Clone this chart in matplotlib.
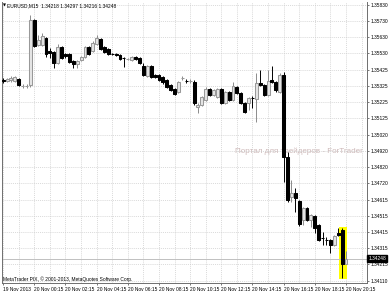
import matplotlib
matplotlib.use('Agg')
import matplotlib.pyplot as plt
from matplotlib.patches import Rectangle
from matplotlib.transforms import blended_transform_factory

plt.rcParams['font.family'] = ['Liberation Sans', 'DejaVu Sans']

# EURUSD M15 bars, 19 Nov 2013 22:15 .. 20 Nov 2013 20:15
opens = [1.35363, 1.35357, 1.35363, 1.35357, 1.35369, 1.35325, 1.35326, 1.35330, 1.35737, 1.35581,
         1.35581, 1.35624, 1.35543, 1.35537, 1.35469, 1.35568, 1.35525, 1.35525, 1.35482, 1.35463,
         1.35488, 1.35506, 1.35568, 1.35543, 1.35587, 1.35618, 1.35568, 1.35556, 1.35525, 1.35525,
         1.35519, 1.35500, 1.35494, 1.35488, 1.35506, 1.35500, 1.35450, 1.35388, 1.35450, 1.35394,
         1.35394, 1.35381, 1.35363, 1.35332, 1.35307, 1.35288, 1.35375, 1.35357, 1.35356, 1.35350,
         1.35195, 1.35208, 1.35239, 1.35307, 1.35270, 1.35258, 1.35307, 1.35220, 1.35288, 1.35239,
         1.35319, 1.35282, 1.35220, 1.35220, 1.35251, 1.35245, 1.35344, 1.35332, 1.35270, 1.35363,
         1.35350, 1.35288, 1.35394, 1.34883, 1.34634, 1.34659, 1.34609, 1.34490, 1.34566, 1.34490,
         1.34515, 1.34459, 1.34378, 1.34366, 1.34366, 1.34335, 1.34409, 1.34428, 1.34218]
highs = [1.35375, 1.35375, 1.35388, 1.35388, 1.35375, 1.35338, 1.35338, 1.35768, 1.35743, 1.35644,
         1.35656, 1.35630, 1.35562, 1.35543, 1.35587, 1.35575, 1.35531, 1.35531, 1.35488, 1.35488,
         1.35512, 1.35575, 1.35575, 1.35606, 1.35644, 1.35624, 1.35575, 1.35562, 1.35531, 1.35531,
         1.35525, 1.35506, 1.35500, 1.35512, 1.35512, 1.35506, 1.35469, 1.35456, 1.35456, 1.35400,
         1.35400, 1.35388, 1.35369, 1.35338, 1.35313, 1.35357, 1.35388, 1.35369, 1.35369, 1.35363,
         1.35220, 1.35264, 1.35319, 1.35313, 1.35307, 1.35313, 1.35313, 1.35294, 1.35294, 1.35350,
         1.35325, 1.35288, 1.35226, 1.35258, 1.35264, 1.35406, 1.35425, 1.35338, 1.35425, 1.35450,
         1.35357, 1.35406, 1.35412, 1.34914, 1.34740, 1.34690, 1.34615, 1.34572, 1.34572, 1.34528,
         1.34522, 1.34466, 1.34415, 1.34384, 1.34372, 1.34397, 1.34441, 1.34441, 1.34297]
lows = [1.35344, 1.35350, 1.35350, 1.35350, 1.35325, 1.35313, 1.35313, 1.35319, 1.35568, 1.35575,
        1.35575, 1.35506, 1.35500, 1.35437, 1.35463, 1.35494, 1.35500, 1.35469, 1.35437, 1.35437,
        1.35482, 1.35500, 1.35519, 1.35537, 1.35581, 1.35550, 1.35531, 1.35519, 1.35519, 1.35512,
        1.35488, 1.35444, 1.35488, 1.35482, 1.35488, 1.35463, 1.35388, 1.35381, 1.35375, 1.35375,
        1.35357, 1.35338, 1.35313, 1.35295, 1.35270, 1.35282, 1.35363, 1.35344, 1.35344, 1.35208,
        1.35158, 1.35201, 1.35233, 1.35264, 1.35264, 1.35251, 1.35214, 1.35214, 1.35233, 1.35233,
        1.35276, 1.35214, 1.35158, 1.35177, 1.35189, 1.35101, 1.35325, 1.35264, 1.35264, 1.35344,
        1.35288, 1.35282, 1.34727, 1.34603, 1.34603, 1.34540, 1.34453, 1.34459, 1.34484, 1.34447,
        1.34409, 1.34359, 1.34335, 1.34335, 1.34285, 1.34328, 1.34391, 1.34129, 1.34216]
closes = [1.35357, 1.35369, 1.35375, 1.35381, 1.35332, 1.35326, 1.35328, 1.35737, 1.35575, 1.35612,
          1.35637, 1.35525, 1.35531, 1.35469, 1.35568, 1.35500, 1.35512, 1.35475, 1.35463, 1.35482,
          1.35506, 1.35568, 1.35525, 1.35594, 1.35624, 1.35556, 1.35537, 1.35525, 1.35524, 1.35519,
          1.35494, 1.35499, 1.35495, 1.35506, 1.35494, 1.35469, 1.35394, 1.35450, 1.35381, 1.35381,
          1.35363, 1.35350, 1.35319, 1.35301, 1.35276, 1.35350, 1.35376, 1.35356, 1.35357, 1.35220,
          1.35208, 1.35258, 1.35307, 1.35270, 1.35301, 1.35307, 1.35220, 1.35288, 1.35239, 1.35325,
          1.35282, 1.35220, 1.35164, 1.35251, 1.35250, 1.35344, 1.35332, 1.35270, 1.35357, 1.35350,
          1.35301, 1.35394, 1.34883, 1.34615, 1.34659, 1.34628, 1.34466, 1.34566, 1.34490, 1.34522,
          1.34441, 1.34366, 1.34377, 1.34365, 1.34335, 1.34391, 1.34397, 1.34215, 1.34248]

time_labels = ['19 Nov 2013', '20 Nov 00:15', '20 Nov 02:15', '20 Nov 04:15', '20 Nov 06:15',
               '20 Nov 08:15', '20 Nov 10:15', '20 Nov 12:15', '20 Nov 14:15', '20 Nov 16:15',
               '20 Nov 18:15', '20 Nov 20:15']
label_bars = [0, 8, 16, 24, 32, 40, 48, 56, 64, 72, 80, 88]
price_ticks = [1.35830, 1.35730, 1.35630, 1.35530, 1.35425, 1.35325, 1.35225, 1.35125, 1.35020,
               1.34920, 1.34820, 1.34720, 1.34615, 1.34515, 1.34415, 1.34315, 1.34215, 1.34110]
marked_bar = 87

W, H = 391, 293
fig = plt.figure(figsize=(W / 100, H / 100), dpi=100, facecolor='white')
ax = fig.add_axes([2 / W, 10 / H, 365 / W, 281 / H])
ax.set_facecolor('none')

n = len(opens)
x = list(range(n))
up = [c >= o for o, c in zip(opens, closes)]

# yellow marker round the last big bear candle
ax.add_patch(Rectangle((marked_bar - 0.85, lows[marked_bar] - 0.00006), 2.15,
                       highs[marked_bar] - lows[marked_bar] + 0.00014,
                       facecolor='#ffff00', edgecolor='none', zorder=1))

# bid line
ax.axhline(closes[-1], color='#c0c0c0', lw=0.7, zorder=1)

wick_cols = ['#8c8c8c' if u else 'black' for u in up]
ax.vlines(x, lows, highs, colors=wick_cols, linewidth=0.7, zorder=2)
bottoms = [min(o, c) for o, c in zip(opens, closes)]
heights = [max(abs(c - o), 0.00001) for o, c in zip(opens, closes)]
ax.bar(x, heights, bottom=bottoms, width=0.75,
       color=['#e6e6e6' if u else 'black' for u in up],
       edgecolor=['#999999' if u else 'black' for u in up],
       linewidth=0.75, zorder=3)

ax.set_xlim(-0.3, 93.4)
ax.set_ylim(1.34098, 1.35849)

# grid
for k in range(0, 96, 4):
    ax.axvline(k, color='#cccccc', lw=0.5, ls=(0, (1.5, 1.5)), zorder=0)
for p in price_ticks:
    ax.axhline(p, color='#cccccc', lw=0.5, ls=(0, (1.5, 1.5)), zorder=0)

ax.set_xticks(label_bars)
ax.set_xticklabels(time_labels, ha='left')
ax.yaxis.tick_right()
ax.set_yticks(price_ticks)
ax.set_yticklabels(['%.5f' % p for p in price_ticks])
ax.tick_params(axis='both', labelsize=3.5, length=1.5, width=0.5, color='#404040', pad=1)
ax.tick_params(axis='x', pad=1.2)

for s in ['left', 'right', 'bottom']:
    ax.spines[s].set_color('#6e6e6e')
    ax.spines[s].set_linewidth(0.7)
ax.spines['top'].set_visible(False)

# current price box
tr = blended_transform_factory(ax.transAxes, ax.transData)
ax.text(1.004, closes[-1], '%.5f' % closes[-1], transform=tr, ha='left', va='center',
        fontsize=3.5, color='white', zorder=6,
        bbox=dict(boxstyle='square,pad=0.2', fc='black', ec='black'))

fig.text(3 / W, 1 - 5.5 / H, '▼', fontsize=2.8, va='center', ha='left', family=['DejaVu Sans'])
fig.text(7 / W, 1 - 5.5 / H, 'EURUSD,M15  1.34218 1.34297 1.34216 1.34248',
         fontsize=3.5, va='center', ha='left')
fig.text(3 / W, 1 - 279 / H, 'MetaTrader PIX, © 2001-2013, MetaQuotes Software Corp.',
         fontsize=3.5, va='center', ha='left')
fig.text(235 / W, 1 - 151 / H, 'Портал для трейдеров - ForTrader',
         fontsize=5.8, va='center', ha='left', color='#cdb8b8', zorder=-1)

fig.savefig('out.png', dpi=100, facecolor='white')
